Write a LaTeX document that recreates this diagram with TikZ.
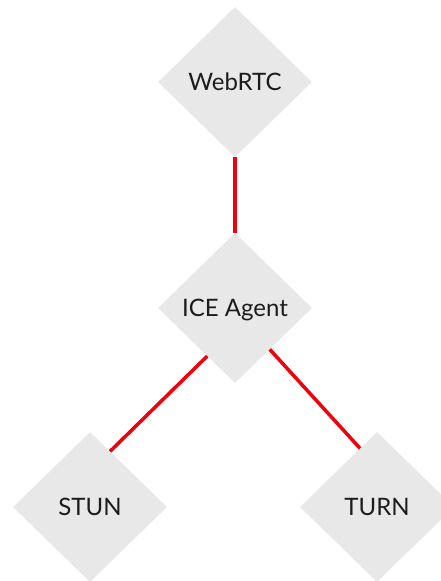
\documentclass[tikz,border=0pt]{standalone}
\usepackage{fontspec}
\setmainfont{Lato}
\usetikzlibrary{shapes.geometric,calc}
\definecolor{boxgray}{HTML}{E8E8E8}
\definecolor{linkred}{HTML}{F0000C}
\definecolor{inkdark}{HTML}{1C1C1C}
\begin{document}
\begin{tikzpicture}[x=1pt,y=-1pt,
  block/.style={diamond, aspect=1, fill=boxgray, draw=none, inner sep=0pt,
    minimum width=154pt, minimum height=150pt, text=inkdark,
    text height=17pt, text depth=0pt,
    font=\fontsize{24}{27}\selectfont},
  link/.style={draw=linkred, line width=3.5pt}]
  \useasboundingbox (0,0) rectangle (440,581);
  % the four components
  \node[block] (webrtc) at (235,82) {WebRTC};
  \node[block] (ice) at (235,308) {ICE Agent};
  \node[block] (stun) at (90,507) {STUN};
  \node[block] (turn) at (377,507) {TURN};
  % connections
  \draw[link] (webrtc.south) -- (ice.north);
  \draw[link] ($(ice.west)!0.64!(ice.south)$) -- ($(stun.north)!0.26!(stun.east)$);
  \draw[link] ($(ice.east)!0.55!(ice.south)$) -- ($(turn.north)!0.22!(turn.west)$);
\end{tikzpicture}
\end{document}
